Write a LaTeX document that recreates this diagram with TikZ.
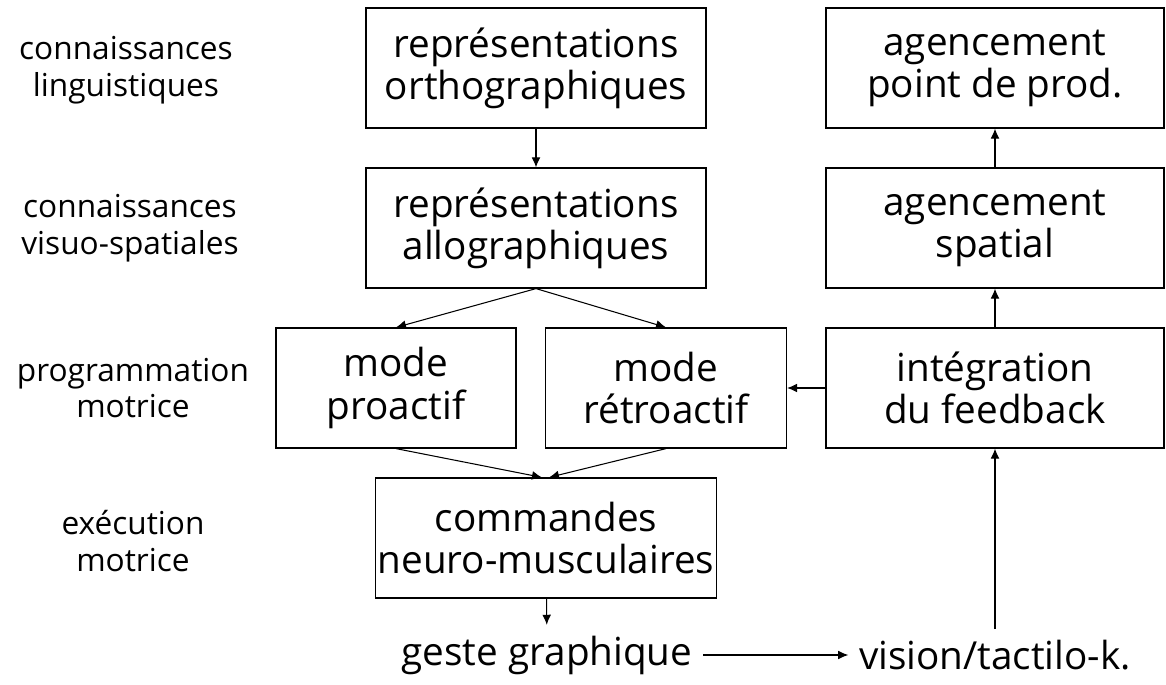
\documentclass[tikz,border=0pt]{standalone}
\usepackage{fontspec}
\setmainfont{Open Sans}
\usepackage{tikz}
\usetikzlibrary{shapes, arrows.meta, positioning}

\newcommand{\boxtxt}{\fontsize{22}{24}\selectfont}
\newcommand{\leveltxt}{\fontsize{18}{21}\selectfont}

\begin{document}
\begin{tikzpicture}[x=0.02cm, y=-0.02cm]
\tikzset{edge/.style = {-{Latex[length=5.7pt,width=5pt]}, line width=0.6pt},
         box/.style = {draw, line width=0.7pt, minimum height=2.4cm, inner sep=0pt, align=center, font=\boxtxt},
         level/.style = {align=center, font=\leveltxt},
         result/.style = {inner sep=6pt, font=\boxtxt}}
\useasboundingbox (0,0) rectangle (1166,685);
            % levels
	\node[level] (lev1) at (126,70)  {connaissances\\linguistiques};
	\node[level] (lev2) at (130,228) {connaissances\\visuo-spatiales};
	\node[level] (lev3) at (133,388) {programmation\\motrice};
	\node[level] (lev4) at (133,541) {exécution\\motrice};
            % vertices
	\node[box, minimum width=6.8cm]  (orth)    at (536,68)  {représentations\\orthographiques};
	\node[box, minimum width=6.8cm]  (allo)    at (536,228) {représentations\\allographiques};
	\node[box, minimum width=6.76cm] (point)   at (995,68)  {agencement\\point de prod.};
	\node[box, minimum width=6.76cm] (spatial) at (995,228) {agencement\\spatial};
	\node[box, minimum width=4.8cm]  (pro)     at (396,388) {mode\\proactif};
	\node[box, minimum width=4.82cm] (retro)   at (666,388) {mode\\rétroactif};
	\node[box, minimum width=6.76cm] (integ)   at (995,388) {intégration\\du feedback};
	\node[box, minimum width=6.82cm] (cmd)     at (546,538) {commandes\\neuro-musculaires};
	\node[result] (geste)  at (547,655) {geste graphique};
	\node[result] (vision) at (995,655) {vision/tactilo-k.};
            %edges
	\draw[edge] (orth) to (allo);
	\draw[edge] (allo.south) to (pro.north);
	\draw[edge] (allo.south) to (retro.north);
	\draw[edge] (pro.south) to ([xshift=-0.08cm]cmd.north);
	\draw[edge] (retro.south) to ([xshift=0.06cm]cmd.north);
	\draw[edge] (integ) to (retro);
	\draw[edge] (integ) to (spatial);
	\draw[edge] (spatial) to (point);
	\draw[edge] (cmd) to (geste);
	\draw[edge] (geste) to (vision);
	\draw[edge] (vision) to (integ);
\end{tikzpicture}
\end{document}
